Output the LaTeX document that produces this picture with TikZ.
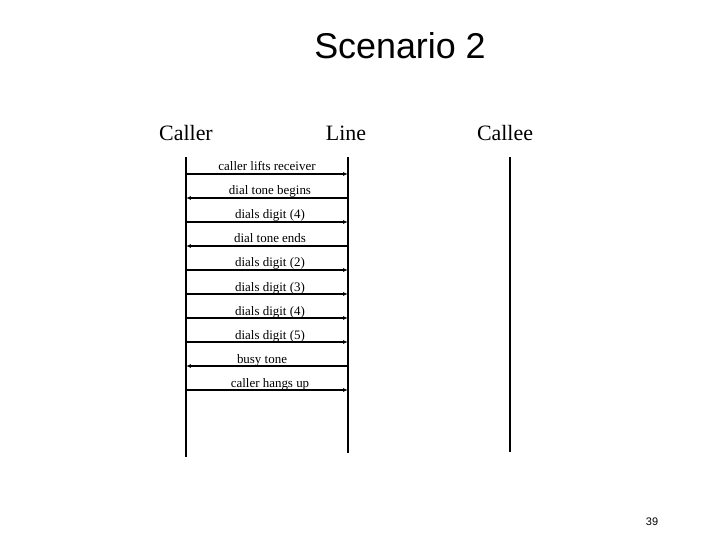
\documentclass[tikz,border=0pt]{standalone}
\usepackage{fontspec}
\usetikzlibrary{arrows.meta}
\setmainfont{Liberation Serif}
\newfontfamily\arialf{Liberation Sans}
\begin{document}
\begin{tikzpicture}[x=1bp,y=-1bp,
  life/.style={line width=1.5pt},
  msg/.style={line width=1.3pt,-{Latex[length=5pt,width=4pt]}},
  lbl/.style={font=\fontsize{13}{13}\selectfont,anchor=base,inner sep=0pt},
  head/.style={font=\fontsize{22}{22}\selectfont,anchor=base,inner sep=0pt}]
\useasboundingbox (0,0) rectangle (720,540);
\node[font=\arialf\fontsize{36}{36}\selectfont,anchor=base] (title) at (400,59) {Scenario 2};
\node[head] (hc) at (186,141) {Caller};
\node[head] (hl) at (346,141) {Line};
\node[head] (he) at (505,141) {Callee};
\coordinate (c0) at (186,157); \coordinate (c1) at (186,457);
\coordinate (l0) at (348,157); \coordinate (l1) at (348,453);
\coordinate (e0) at (510,157); \coordinate (e1) at (510,452);
\draw[life] (c0) -- (c1);
\draw[life] (l0) -- (l1);
\draw[life] (e0) -- (e1);
\foreach \y/\t/\d/\lx in {174/caller lifts receiver/r/267,198/dial tone begins/l/270,222/dials digit (4)/r/270,246/dial tone ends/l/270,270/dials digit (2)/r/270,294/dials digit (3)/r/270,318/dials digit (4)/r/270,342/dials digit (5)/r/270,366/busy tone/l/262,390/caller hangs up/r/270}{
  \coordinate (a\y) at (186,\y); \coordinate (b\y) at (348,\y);
  \node[lbl] (t\y) at (\lx,\y-3) {\t};
  \if r\d \draw[msg] (a\y) -- (b\y); \else \draw[msg] (b\y) -- (a\y); \fi
}
\node[font=\arialf\fontsize{11}{11}\selectfont,anchor=base] (pg) at (652,525) {39};
\end{tikzpicture}
\end{document}
